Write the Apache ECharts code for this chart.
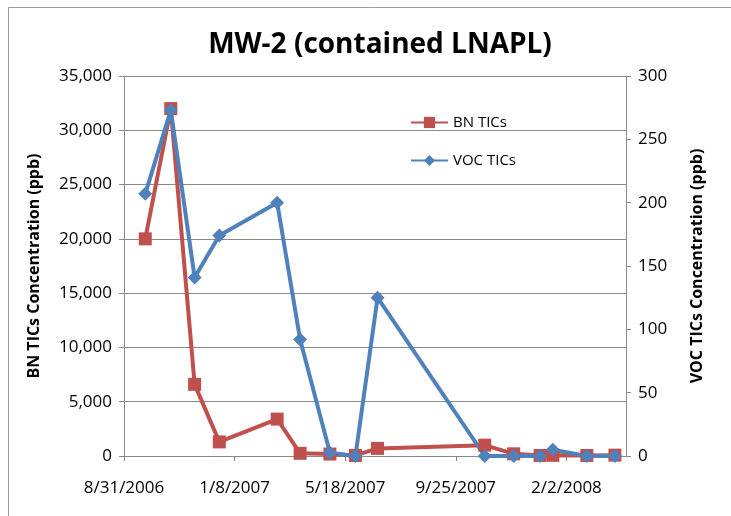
<!DOCTYPE html>
<html>
<head>
<meta charset="utf-8">
<script src="https://cdn.jsdelivr.net/npm/echarts@6/dist/echarts.min.js"></script>
<style>
html, body { margin: 0; padding: 0; background: #fff; }
#mainChart { width: 731px; height: 516px; }
</style>
</head>
<body>
<div id="mainChart"></div>
<script>
// sample dates
var sampleDates = ['2006-09-25', '2006-10-25', '2006-11-22', '2006-12-21', '2007-02-27',
    '2007-03-26', '2007-04-30', '2007-05-30', '2007-06-25', '2007-10-29',
    '2007-12-02', '2008-01-02', '2008-01-17', '2008-02-26', '2008-03-30'];
var bnTics = [20000, 32000, 6600, 1300, 3400, 250, 180, 50, 700, 1000, 200, 50, 60, 50, 80];
var vocTics = [207, 273, 141, 174, 200, 92, 2.5, 0, 125, 0, 0, 0, 5, 0, 0];
var tickDates = ['2006-08-31', '2007-01-08', '2007-05-18', '2007-09-25', '2008-02-02'];

var DAY = 86400000;
function toUTC(s) {
    var p = s.split('-');
    return Date.UTC(+p[0], +p[1] - 1, +p[2]);
}
var base = toUTC(tickDates[0]);
function dayNum(s) { return Math.round((toUTC(s) - base) / DAY); }
function fmtDay(v) {
    var d = new Date(base + v * DAY);
    return (d.getUTCMonth() + 1) + '/' + d.getUTCDate() + '/' + d.getUTCFullYear();
}

var tickDays = tickDates.map(dayNum);
var bnData = sampleDates.map(function (s, i) { return [dayNum(s), bnTics[i]]; });
var vocData = sampleDates.map(function (s, i) { return [dayNum(s), vocTics[i]]; });

var font = 'Open Sans';
var gray = '#8a8a8a';

var myChart = echarts.init(document.getElementById('mainChart'));

option = {
    animation: false,
    textStyle: { fontFamily: font },
    graphic: [{
        type: 'rect',
        shape: { x: 8.5, y: 7.5, width: 800, height: 600 },
        style: { fill: 'none', stroke: '#9a9a9a', lineWidth: 1 },
        silent: true
    }],
    title: {
        text: 'MW-2 (contained LNAPL)',
        left: 375,
        textAlign: 'center',
        top: 26,
        textStyle: { fontFamily: font, fontSize: 28, fontWeight: 'bold', color: '#000' }
    },
    legend: {
        orient: 'vertical',
        left: 405,
        top: 110,
        itemWidth: 37,
        itemHeight: 14,
        itemGap: 23,
        textStyle: { fontFamily: font, fontSize: 15, color: '#000' },
        data: ['BN TICs', 'VOC TICs']
    },
    grid: { left: 124, right: 105, top: 76, bottom: 60 },
    xAxis: {
        type: 'value',
        min: 0,
        max: 590,
        interval: 130,
        axisLine: { lineStyle: { color: gray } },
        axisTick: { length: 5, lineStyle: { color: gray }, customValues: tickDays },
        axisLabel: {
            margin: 24, fontSize: 17, color: '#000', fontFamily: font,
            customValues: tickDays,
            formatter: fmtDay
        },
        splitLine: { show: false }
    },
    yAxis: [{
        type: 'value',
        min: 0,
        max: 35000,
        interval: 5000,
        name: 'BN TICs Concentration (ppb)',
        nameLocation: 'middle',
        nameRotate: 90,
        nameGap: 82,
        nameTextStyle: { fontFamily: font, fontSize: 16, fontWeight: 'bold', color: '#000' },
        axisLine: { show: true, lineStyle: { color: gray } },
        axisTick: { show: true, length: 5, lineStyle: { color: gray } },
        axisLabel: {
            margin: 12, fontSize: 17, color: '#000', fontFamily: font,
            formatter: function (v) { return v.toLocaleString('en-US'); }
        },
        splitLine: { show: true, lineStyle: { color: gray, width: 1 } }
    }, {
        type: 'value',
        position: 'right',
        min: 0,
        max: 300,
        interval: 50,
        name: 'VOC TICs Concentration (ppb)',
        nameLocation: 'middle',
        nameRotate: 90,
        nameGap: 63,
        nameTextStyle: { fontFamily: font, fontSize: 16, fontWeight: 'bold', color: '#000' },
        axisLine: { show: true, lineStyle: { color: gray } },
        axisTick: { show: true, length: 5, lineStyle: { color: gray } },
        axisLabel: { margin: 12, fontSize: 17, color: '#000', fontFamily: font },
        splitLine: { show: false }
    }],
    series: [{
        name: 'BN TICs',
        type: 'line',
        yAxisIndex: 0,
        symbol: 'rect',
        symbolSize: 13,
        lineStyle: { width: 4, color: '#C0504D' },
        itemStyle: { color: '#C0504D' },
        data: bnData
    }, {
        name: 'VOC TICs',
        type: 'line',
        yAxisIndex: 1,
        symbol: 'diamond',
        symbolSize: 14,
        lineStyle: { width: 4, color: '#4F81BD' },
        itemStyle: { color: '#4F81BD' },
        data: vocData
    }]
};

if (option && typeof option === "object") {
    myChart.setOption(option, true);
}
</script>
</body>
</html>
